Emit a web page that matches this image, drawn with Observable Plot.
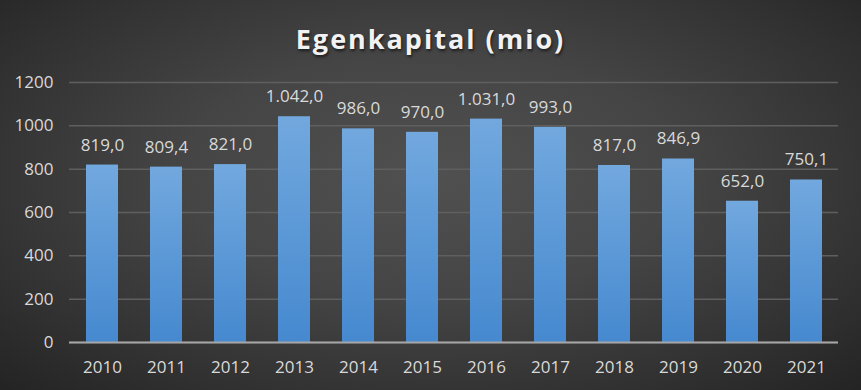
<!DOCTYPE html>
<html>
<head>
<meta charset="utf-8">
<script src="https://cdn.jsdelivr.net/npm/d3@7"></script>
<script src="https://cdn.jsdelivr.net/npm/@observablehq/plot@0.6"></script>
<style>
  html, body { margin: 0; padding: 0; background: #2a2a2a; }
  #chart {
    width: 861px; height: 390px; overflow: hidden; position: relative;
    background: radial-gradient(ellipse 72% 78% at 50% 45%, #505050 0%, #454545 40%, #303030 78%, #232323 100%);
    font-family: "Open Sans", sans-serif;
  }
  #title {
    height: 60px; line-height: 78px; text-align: center; overflow: visible;
    font-size: 27px; font-weight: 700; letter-spacing: 2px;
    color: #f2f2f2; text-shadow: 1px 2px 3px rgba(0,0,0,0.6);
    white-space: nowrap;
  }
  #chart svg { display: block; }
</style>
</head>
<body>
<div id="chart">
  <div id="title">Egenkapital (mio)</div>
</div>
<script>
const years = ["2010","2011","2012","2013","2014","2015","2016","2017","2018","2019","2020","2021"];
const values = [819.0, 809.4, 821.0, 1042.0, 986.0, 970.0, 1031.0, 993.0, 817.0, 846.9, 652.0, 750.1];
const yTicks = [0, 200, 400, 600, 800, 1000, 1200];

const data = years.map((year, i) => ({year, value: values[i]}));
const fmt = d3.formatLocale({decimal: ",", thousands: ".", grouping: [3], currency: ["", ""]}).format(",.1f");

const svg = Plot.plot({
  width: 861,
  height: 330,
  marginTop: 22,
  marginBottom: 48,
  marginLeft: 69,
  marginRight: 23,
  style: {background: "transparent", color: "#d9d9d9", fontFamily: "'Open Sans', sans-serif", fontSize: "17px"},
  x: {domain: years, paddingInner: 0.5, paddingOuter: 0.25, label: null},
  y: {domain: [0, 1200], label: null},
  marks: [
    Plot.gridY(yTicks, {stroke: "#5f5f5f", strokeOpacity: 1, strokeWidth: 1.5}),
    Plot.barY(data, {x: "year", y: "value", fill: "url(#barGrad)", style: "filter: drop-shadow(1px 1px 3px rgba(0,0,0,0.45))"}),
    Plot.ruleY([0], {stroke: "#a6a6a6", strokeWidth: 2}),
    Plot.text(data, {x: "year", y: "value", text: d => fmt(d.value), dy: -20, fill: "#d9d9d9", fontSize: 17}),
    Plot.axisX({tickSize: 0, tickPadding: 18, label: null, fill: "#d9d9d9", fontSize: 17}),
    Plot.axisY(yTicks, {tickSize: 0, tickPadding: 16, label: null, fill: "#d9d9d9", fontSize: 17, tickFormat: d => String(d)})
  ]
});

const defs = d3.select(svg).insert("defs", ":first-child");
const g = defs.append("linearGradient").attr("id", "barGrad").attr("x1", 0).attr("y1", 0).attr("x2", 0).attr("y2", 1);
g.append("stop").attr("offset", "0%").attr("stop-color", "#72a8de");
g.append("stop").attr("offset", "100%").attr("stop-color", "#4689cf");

document.getElementById("chart").appendChild(svg);
</script>
</body>
</html>
